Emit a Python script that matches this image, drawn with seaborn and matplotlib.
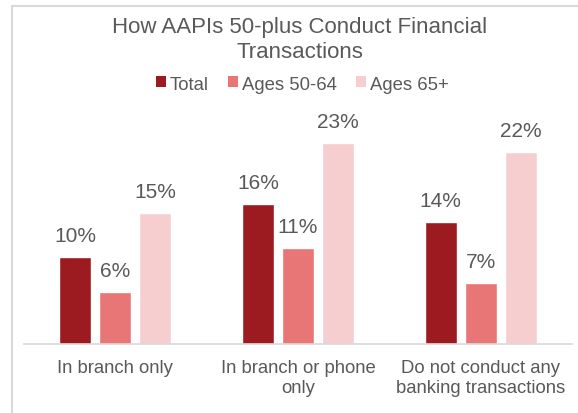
import matplotlib
matplotlib.use("Agg")
import matplotlib.pyplot as plt
from matplotlib.patches import Patch, Rectangle
import pandas as pd
import seaborn as sns

categories = ["In branch only", "In branch or phone\nonly", "Do not conduct any\nbanking transactions"]
series = ["Total", "Ages 50-64", "Ages 65+"]
total = [10, 16, 14]
ages_50_64 = [6, 11, 7]
ages_65_plus = [15, 23, 22]
colors = ["#9C1B20", "#E87676", "#F6CED0"]

rows = []
for name, vals in zip(series, [total, ages_50_64, ages_65_plus]):
    for cat, v in zip(categories, vals):
        rows.append({"category": cat, "group": name, "value": v})
df = pd.DataFrame(rows)

sns.set_theme(style="white")
plt.rcParams["font.family"] = ["Liberation Sans", "DejaVu Sans"]
text_color = "#595959"

W, H = 578, 414
fig = plt.figure(figsize=(W / 100, H / 100), dpi=100)
ax = fig.add_axes([24 / W, 1 - 345 / H, (572 - 24) / W, (345 - 126.25) / H])

sns.barplot(data=df, x="category", y="value", hue="group", order=categories,
            hue_order=series, palette=colors, width=0.656, gap=0.2,
            errorbar=None, legend=False, ax=ax, saturation=1)

for container in ax.containers:
    for bar in container:
        h = bar.get_height()
        ax.annotate(f"{h:.0f}%", (bar.get_x() + bar.get_width() / 2, h),
                    xytext=(0, 11.5), textcoords="offset points",
                    ha="center", va="baseline", fontsize=15, color=text_color)

ax.set_xlim(-0.5, 2.5)
ax.set_ylim(0, 25)
ax.set_xlabel("")
ax.set_ylabel("")
ax.set_yticks([])
for s in ["top", "left", "right"]:
    ax.spines[s].set_visible(False)
ax.spines["bottom"].set_color("#D9D9D9")
ax.spines["bottom"].set_linewidth(1.2)
ax.tick_params(axis="x", length=0, pad=11, labelsize=13.3, colors=text_color)
for lbl in ax.get_xticklabels():
    lbl.set_linespacing(1.18)

# outer chart frame
fig.patches.append(Rectangle((12 / W, -0.05), 1.2, 1 - 7 / H + 0.05, transform=fig.transFigure,
                             fill=False, edgecolor="#D9D9D9", linewidth=1.5))

fig.text(300 / W, 1 - 40 / H, "How AAPIs 50-plus Conduct Financial\nTransactions",
         ha="center", va="center", fontsize=16, color=text_color, linespacing=1.3)

handles = [Patch(facecolor=c, edgecolor="none", label=s) for c, s in zip(colors, series)]
fig.legend(handles=handles, loc="center", bbox_to_anchor=(302 / W, 1 - 85 / H), ncol=3,
           frameon=False, fontsize=13.3, handlelength=0.54, handleheight=0.54,
           handletextpad=0.22, columnspacing=1.03, labelcolor=text_color,
           borderpad=0, borderaxespad=0)

fig.savefig("out.png", dpi=100)
